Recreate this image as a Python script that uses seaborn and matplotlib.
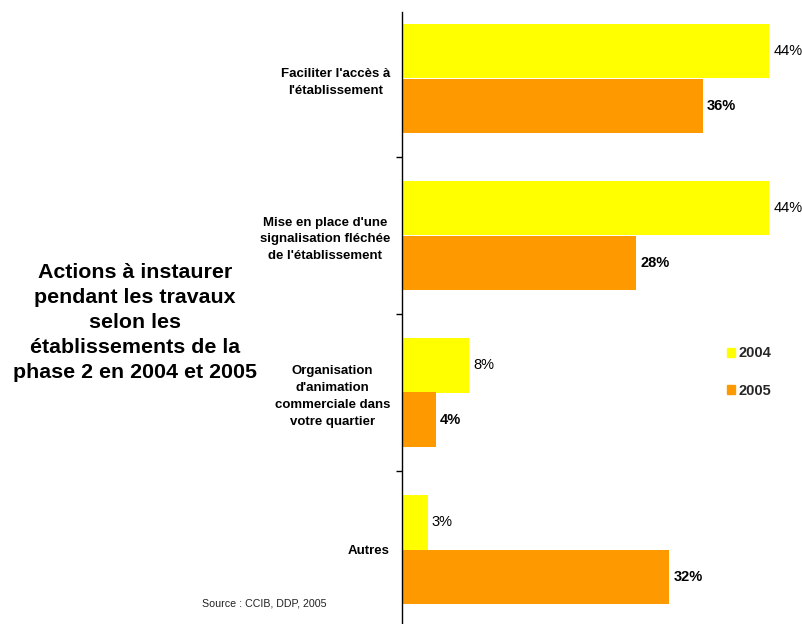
import matplotlib
matplotlib.use("Agg")
import matplotlib.pyplot as plt
import matplotlib.patches as mpatches
from matplotlib.ticker import FixedLocator
import seaborn as sns
import pandas as pd

# Survey answers: share of establishments per action, by year
categories = [
    "Faciliter l'accès à\nl'établissement",
    "Mise en place d'une\nsignalisation fléchée\nde l'établissement",
    "Organisation\nd'animation\ncommerciale dans\nvotre quartier",
    "Autres",
]
years = ["2004", "2005"]
values_2004 = [44, 44, 8, 3]
values_2005 = [36, 28, 4, 32]

df = pd.DataFrame({
    "action": categories * 2,
    "annee": [years[0]] * len(categories) + [years[1]] * len(categories),
    "pct": values_2004 + values_2005,
})

sns.set_theme(style="white")
fam = ["Liberation Sans", "DejaVu Sans"]
plt.rcParams["font.family"] = fam

W, H = 803, 624
fig = plt.figure(figsize=(W / 100, H / 100), dpi=100)
ax = fig.add_axes([402.5 / W, 0.0, (790 - 402.5) / W, 1 - 12 / H])

palette = {"2004": "#FFFF00", "2005": "#FF9900"}
sns.barplot(data=df, y="action", x="pct", hue="annee", hue_order=years,
            order=categories, palette=palette, width=0.7, orient="h",
            saturation=1, linewidth=0, edgecolor="none", ax=ax, legend=False)

ax.set_xlim(0, (790 - 402.5) / 8.34)
ax.set_ylim((624 - 78.5) / 157, (12 - 78.5) / 157)
ax.set_xlabel("")
ax.set_ylabel("")
ax.set_xticks([])

for side in ("top", "right", "bottom"):
    ax.spines[side].set_visible(False)
ax.spines["left"].set_color("black")
ax.spines["left"].set_linewidth(1.0)

# Category labels, centred block to the left of the axis
ax.tick_params(axis="y", which="major", length=0, pad=9)
for lab in ax.get_yticklabels():
    lab.set_multialignment("center")
    lab.set_fontweight("bold")
    lab.set_fontsize(9.5)
    lab.set_linespacing(1.55)
    lab.set_color("black")

# Separator ticks between categories
ax.yaxis.set_minor_locator(FixedLocator([0.5, 1.5, 2.5]))
ax.tick_params(axis="y", which="minor", left=True, length=4, width=1,
               color="black", direction="out")

# Value labels: 2004 regular, 2005 bold
for cont, weight in zip(ax.containers, ["normal", "bold"]):
    ax.bar_label(cont, labels=[f"{v:g}%" for v in cont.datavalues],
                 padding=3, fontsize=10.5, fontweight=weight, color="black")

# Legend
handles = [mpatches.Patch(color=palette[y], label=y) for y in years]
fig.legend(handles=handles, loc="center left",
           bbox_to_anchor=(714 / W, 1 - 372 / H), frameon=False,
           handlelength=0.55, handleheight=0.55, handletextpad=0.2,
           labelspacing=1.6, prop={"weight": "bold", "size": 10.5})

# Title block on the left
fig.text(135 / W, 1 - 322 / H,
         "Actions à instaurer\npendant les travaux\nselon les\nétablissements de la\nphase 2 en 2004 et 2005",
         ha="center", va="center", multialignment="center",
         fontsize=15.4, fontweight="bold", linespacing=1.4, color="black")

fig.text(202 / W, 1 - 604 / H, "Source : CCIB, DDP, 2005",
         ha="left", va="center", fontsize=7.7, color="#222222")

fig.savefig("out.png", dpi=100, facecolor="white")
